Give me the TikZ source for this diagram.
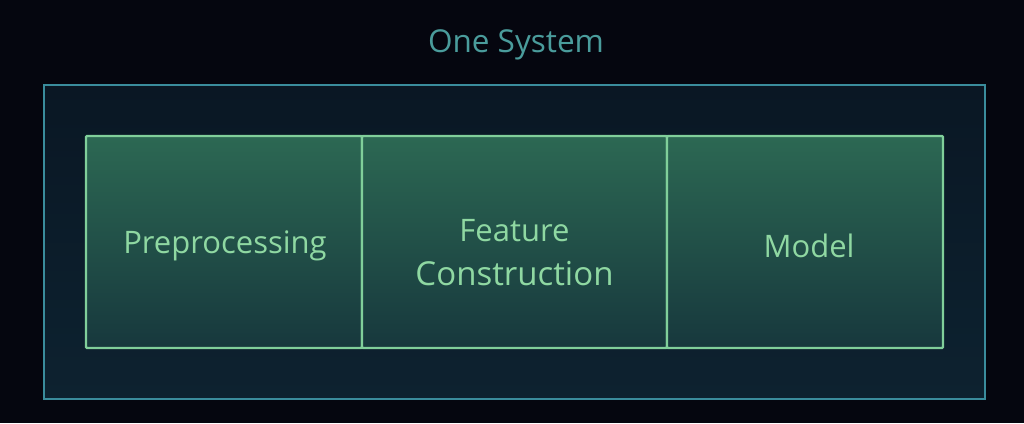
\documentclass[tikz,border=0pt]{standalone}
\usepackage{fontspec}
\setmainfont{Open Sans}
\definecolor{bgc}{HTML}{05060F}
\definecolor{outerline}{HTML}{3A8C9C}
\definecolor{outertop}{HTML}{0A1724}
\definecolor{outerbot}{HTML}{0D2230}
\definecolor{celltop}{HTML}{2C6853}
\definecolor{cellbot}{HTML}{17383D}
\definecolor{cellline}{HTML}{80CF9A}
\definecolor{celltext}{HTML}{8FD8A2}
\definecolor{titletext}{HTML}{4A9C9C}
\tikzset{
  cell/.style={draw=cellline, line width=2.2pt, top color=celltop, bottom color=cellbot,
    minimum height=212pt, inner sep=0pt, rounded corners=1pt},
  outerbox/.style={draw=outerline, line width=2pt, top color=outertop, bottom color=outerbot,
    minimum width=941pt, minimum height=314pt, inner sep=0pt},
  lbl/.style={text=celltext, font=\fontsize{31}{36}\selectfont, inner sep=0pt},
  lblbig/.style={text=celltext, font=\fontsize{33}{38}\selectfont, inner sep=0pt},
}
\begin{document}
\begin{tikzpicture}[x=1pt,y=-1pt]
\fill[bgc] (0,0) rectangle (1024,423);
\useasboundingbox (0,0) rectangle (1024,423);
\node[outerbox] (outer) at (514.5,242) {};
\node[text=titletext, font=\fontsize{31.5}{36}\selectfont, inner sep=0pt] (title) at (516,45) {One System};
\node[cell, minimum width=276pt] (pre) at (224,242) {};
\node[cell, minimum width=305pt] (feat) at (514.5,242) {};
\node[cell, minimum width=276pt] (model) at (805,242) {};
\node[lbl] (pretext) at (225,246) {Preprocessing};
\node[lbl] (feattext1) at (514.5,231) {Feature};
\node[lblbig] (feattext2) at (514.5,274) {Construction};
\node[lbl] (modeltext) at (809,246) {Model};
\end{tikzpicture}
\end{document}
